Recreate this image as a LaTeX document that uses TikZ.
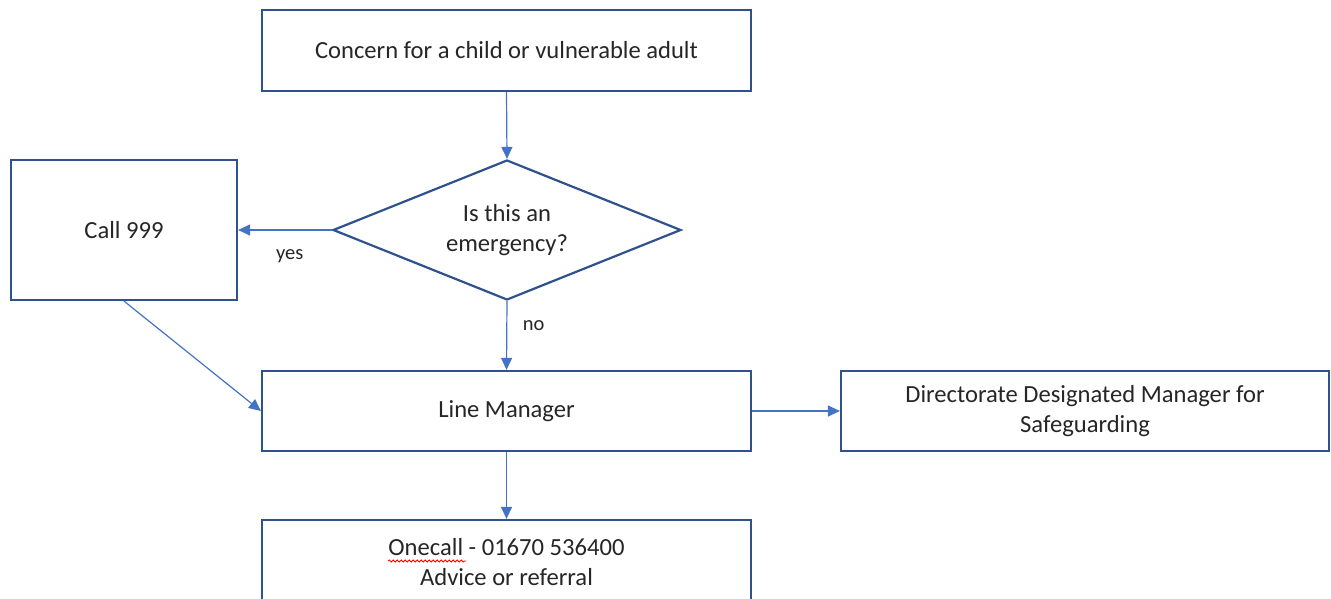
\documentclass[tikz,border=0pt]{standalone}
\usepackage{fontspec}
\setmainfont{Carlito}
\usetikzlibrary{shapes.geometric,arrows.meta,decorations.pathmorphing}
\definecolor{boxblue}{HTML}{2F528F}
\definecolor{arrowblue}{HTML}{4472C4}
\begin{document}
\begin{tikzpicture}[x=1pt,y=-1pt,
  box/.style={draw=boxblue,line width=2.2pt,fill=white,inner sep=0pt,align=center,
    font=\fontsize{24.6}{30}\selectfont,text=black!85},
  decision/.style={box,diamond,aspect=2.49},
  conn/.style={draw=arrowblue,line width=1.2pt,-{Triangle[length=12pt,width=11pt]}},
  lbl/.style={font=\fontsize{20.5}{24}\selectfont,text=black!85}]
\useasboundingbox (0,0) rectangle (1331,599);
\clip (0,0) rectangle (1331,599);
\node[box,minimum width=489,minimum height=81] (concern) at (506.5,50.5) {Concern for a child or vulnerable adult};
\node[decision,minimum width=348,minimum height=140] (emerg) at (507,230) {Is this an\\emergency?};
\node[box,minimum width=226,minimum height=140] (call) at (124,230) {Call 999};
\node[box,minimum width=489,minimum height=80] (lm) at (506.5,411) {Line Manager};
\node[box,minimum width=488,minimum height=80] (dir) at (1085,411) {Directorate Designated Manager for\\Safeguarding};
\node[box,minimum width=489,minimum height=84] (one) at (506.5,562) {Onecall - 01670 536400\\Advice or referral};
\draw[red,line width=0.8pt,decorate,decoration={snake,amplitude=1pt,segment length=4pt}] (388,561) -- (466,561);
\draw[conn] (concern.south) -- (emerg.north);
\draw[conn] (emerg.west) -- node[lbl,below=16pt,pos=0.45] (yes) {yes} (call.east);
\draw[conn] (emerg.south) -- node[lbl,right=12pt,pos=0.35] (no) {no} (lm.north);
\draw[conn] (call.south) -- (lm.west);
\draw[conn] (lm.east) -- (dir.west);
\draw[conn] (lm.south) -- (one.north);
\end{tikzpicture}
\end{document}
